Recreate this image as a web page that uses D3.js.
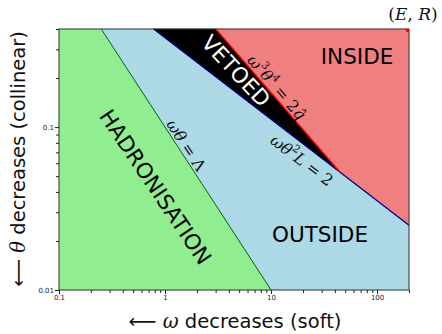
<!DOCTYPE html>
<html>
<head>
<meta charset="utf-8">
<script src="https://cdn.jsdelivr.net/npm/d3@7"></script>
<style>
  html, body { margin: 0; padding: 0; background: #fff; }
  svg { display: block; }
  .sans { font-family: "DejaVu Sans", sans-serif; }
  .math { font-family: "DejaVu Serif", "Liberation Serif", serif; }
</style>
</head>
<body>
<svg id="chart" width="442" height="334"></svg>
<script>
// Phase-space parameters (ω in GeV, θ in rad)
const energyE = 200;      // jet energy E
const radiusR = 0.4;      // jet radius R
const lambdaQCD = 0.1;    // ωθ = Λ
const lengthL = 16;       // medium length L
const qhat = 0.35;        // transport coefficient q̂

// Axis domains and ticks
const omegaDomain = [0.1, energyE];
const thetaDomain = [0.01, radiusR];
const omegaTickLabels = ["0.1", "1", "10", "100"];
const thetaTickLabels = ["0.01", "0.1"];

// Region names and colours
const regionNames = ["HADRONISATION", "OUTSIDE", "VETOED", "INSIDE"];
const regionColors = ["#90ee90", "#add8e6", "#000000", "#f08080"];

const W = 442, H = 334;
const m = { left: 59, right: 33, top: 29, bottom: 44 };

const svg = d3.select("#chart");
const x = d3.scaleLog().domain(omegaDomain).range([m.left, W - m.right]);
const y = d3.scaleLog().domain(thetaDomain).range([H - m.bottom, m.top]);

// Boundary lines (straight in log-log space)
const thetaB = w => Math.sqrt(2 / (lengthL * w));           // ωθ²L = 2
const omegaBTop = 2 / (lengthL * radiusR * radiusR);
const omegaRTop = Math.cbrt(2 * qhat / Math.pow(radiusR, 4)); // ω³θ⁴ = 2q̂
const omegaC = qhat * lengthL * lengthL / 2;
const thetaC = thetaB(omegaC);
const omegaGBot = lambdaQCD / thetaDomain[0];                 // ωθ = Λ
const omegaGTop = lambdaQCD / radiusR;

const [w0, w1] = omegaDomain, [t0, t1] = thetaDomain;
const regions = [
  [[w0, t0], [omegaGBot, t0], [omegaGTop, t1], [w0, t1]],
  [[omegaGBot, t0], [w1, t0], [w1, thetaB(w1)], [omegaC, thetaC], [omegaBTop, t1], [omegaGTop, t1]],
  [[omegaBTop, t1], [omegaC, thetaC], [omegaRTop, t1]],
  [[omegaRTop, t1], [omegaC, thetaC], [w1, thetaB(w1)], [w1, t1]]
];

const line = d3.line().x(d => x(d[0])).y(d => y(d[1]));

svg.append("g").selectAll("path").data(regions).join("path")
  .attr("d", d => line(d) + "Z")
  .attr("fill", (d, i) => regionColors[i])
  .attr("stroke", (d, i) => regionColors[i])
  .attr("stroke-width", 0.5);

// Boundary curves
svg.append("path").attr("d", line([[omegaGBot, t0], [omegaGTop, t1]]))
  .attr("stroke", "#006400").attr("stroke-width", 1).attr("fill", "none");
svg.append("path").attr("d", line([[omegaBTop, t1], [omegaC, thetaC], [w1, thetaB(w1)]]))
  .attr("stroke", "#00008b").attr("stroke-width", 1.3).attr("fill", "none");
svg.append("path").attr("d", line([[omegaRTop, t1], [omegaC, thetaC]]))
  .attr("stroke", "#ff0000").attr("stroke-width", 1.3).attr("fill", "none");

// Frame
svg.append("rect")
  .attr("x", m.left).attr("y", m.top)
  .attr("width", W - m.left - m.right).attr("height", H - m.top - m.bottom)
  .attr("fill", "none").attr("stroke", "#333").attr("stroke-width", 1);

// (E, R) marker, clipped to the plot area
svg.append("clipPath").attr("id", "plotclip").append("rect")
  .attr("x", m.left).attr("y", m.top)
  .attr("width", W - m.left - m.right).attr("height", H - m.top - m.bottom);
svg.append("circle").attr("clip-path", "url(#plotclip)")
  .attr("cx", x(energyE)).attr("cy", y(radiusR)).attr("r", 3.5).attr("fill", "red");

// Axes
const isMajor = (v, list) => list.some(t => Math.abs(t - v) / t < 1e-6);
const xMajors = [0.1, 1, 10, 100];
const xAxis = d3.axisBottom(x)
  .tickValues(d3.range(-1, 3).flatMap(e => d3.range(1, 10).map(k => k * Math.pow(10, e))).filter(v => v <= w1 * 1.0001))
  .tickSize(4).tickPadding(1)
  .tickFormat(v => { const i = xMajors.findIndex(t => Math.abs(t - v) / t < 1e-6); return i >= 0 ? omegaTickLabels[i] : ""; });
const gx = svg.append("g").attr("transform", `translate(0,${H - m.bottom})`).call(xAxis);
gx.select(".domain").remove();
gx.selectAll(".tick line").attr("y2", d => isMajor(d, xMajors) ? 4 : 3).attr("stroke", "#222");
gx.selectAll("text").attr("class", "sans").attr("font-size", 7).attr("fill", "#222");

const yMajors = [0.01, 0.1];
const yAxis = d3.axisLeft(y)
  .tickValues(d3.range(-2, 0).flatMap(e => d3.range(1, 10).map(k => k * Math.pow(10, e))).filter(v => v <= t1 * 1.0001))
  .tickSize(4).tickPadding(1)
  .tickFormat(v => { const i = yMajors.findIndex(t => Math.abs(t - v) / t < 1e-6); return i >= 0 ? thetaTickLabels[i] : ""; });
const gy = svg.append("g").attr("transform", `translate(${m.left},0)`).call(yAxis);
gy.select(".domain").remove();
gy.selectAll(".tick line").attr("x2", d => isMajor(d, yMajors) ? -4 : -3).attr("stroke", "#222");
gy.selectAll("text").attr("class", "sans").attr("font-size", 7).attr("fill", "#222");

// Region labels
function label(txt, cx, cy, angle, fill) {
  svg.append("text").attr("class", "sans")
    .attr("transform", `translate(${cx},${cy}) rotate(${angle})`)
    .attr("text-anchor", "middle").attr("dominant-baseline", "central")
    .attr("font-size", 21.5).attr("fill", fill).text(txt);
}
label(regionNames[0], 155.5, 187, 56, "#000");
label(regionNames[1], 320, 234, 0, "#000");
label(regionNames[2], 236, 71, 47, "#fff");
label(regionNames[3], 357, 56, 0, "#000");

// Boundary equations
function mathLabel(cx, cy, angle, parts) {
  const t = svg.append("text").attr("class", "math")
    .attr("transform", `translate(${cx},${cy}) rotate(${angle})`)
    .attr("text-anchor", "middle").attr("dominant-baseline", "central")
    .attr("font-size", 16).attr("fill", "#111");
  parts.forEach(p => {
    const s = t.append("tspan").text(p.t);
    if (p.i) s.attr("font-style", "italic");
    if (p.sup) s.attr("font-size", 10.5).attr("dy", -6);
    if (p.down) s.attr("dy", 6);
  });
}
mathLabel(186.5, 145, 57, [{ t: "ωθ", i: 1 }, { t: " = Λ" }]);
mathLabel(277, 87, 49, [{ t: "ω", i: 1 }, { t: "3", sup: 1 }, { t: "θ", i: 1, down: 1 }, { t: "4", sup: 1 }, { t: " = 2", down: 1 }, { t: "q̂", i: 1 }]);
mathLabel(302, 160, 37, [{ t: "ωθ", i: 1 }, { t: "2", sup: 1 }, { t: "L", i: 1, down: 1 }, { t: " = 2" }]);

svg.append("text").attr("class", "math")
  .attr("x", 413).attr("y", 14).attr("text-anchor", "middle").attr("dominant-baseline", "central")
  .attr("font-size", 17).attr("fill", "#111")
  .html('(<tspan font-style="italic">E</tspan>, <tspan font-style="italic">R</tspan>)');

// Axis titles
const xt = svg.append("text").attr("class", "sans")
  .attr("x", 235).attr("y", 321).attr("text-anchor", "middle").attr("dominant-baseline", "central")
  .attr("font-size", 19.5).attr("fill", "#111");
xt.append("tspan").text("⟵ ");
xt.append("tspan").attr("class", "math").attr("font-style", "italic").text("ω");
xt.append("tspan").text(" decreases (soft)");

const yt = svg.append("text").attr("class", "sans")
  .attr("transform", `translate(18,159) rotate(-90)`).attr("text-anchor", "middle").attr("dominant-baseline", "central")
  .attr("font-size", 19.5).attr("fill", "#111");
yt.append("tspan").text("⟵ ");
yt.append("tspan").attr("class", "math").attr("font-style", "italic").text("θ");
yt.append("tspan").text(" decreases (collinear)");
</script>
</body>
</html>
